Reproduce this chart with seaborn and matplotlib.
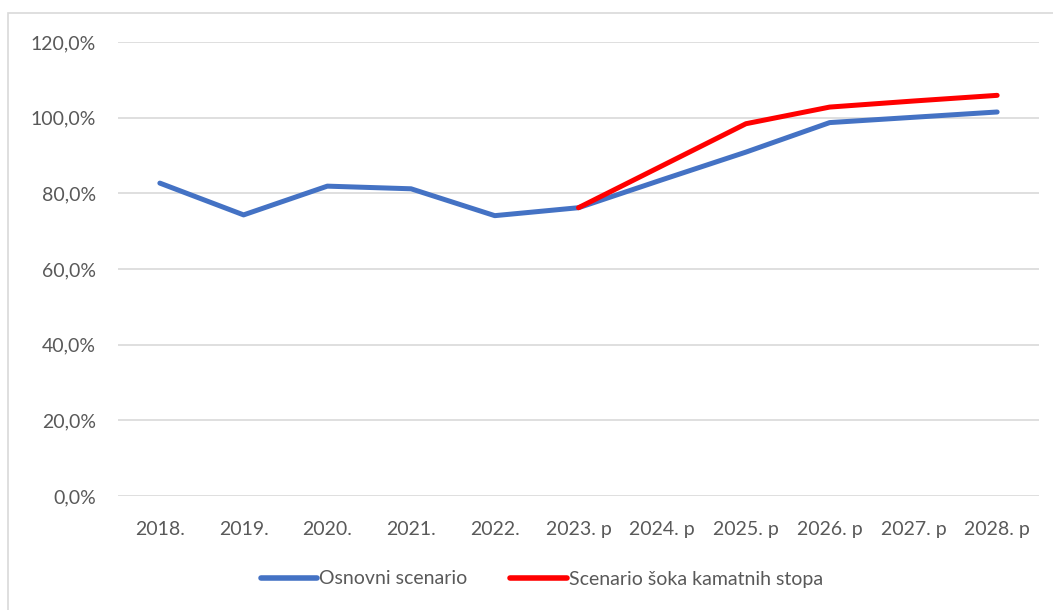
import pandas as pd
import matplotlib.pyplot as plt
import seaborn as sns
from matplotlib.patches import Rectangle
from matplotlib.ticker import FuncFormatter

years = ["2018.", "2019.", "2020.", "2021.", "2022.", "2023. p",
         "2024. p", "2025. p", "2026. p", "2027. p", "2028. p"]
osnovni = [82.7, 74.3, 81.9, 81.2, 74.1, 76.2, 83.6, 90.9, 98.7, 100.1, 101.5]
sok = [None, None, None, None, None, 76.2, 87.3, 98.4, 102.8, 104.4, 105.9]

names = ["Osnovni scenario", "Scenario šoka kamatnih stopa"]
colors = {"Osnovni scenario": "#4472c4", "Scenario šoka kamatnih stopa": "#ff0000"}

df = pd.DataFrame({
    "pos": list(range(len(years))) * 2,
    "value": osnovni + sok,
    "serija": [names[0]] * len(years) + [names[1]] * len(years),
}).dropna()

sns.set_theme(style="white")
plt.rcParams["font.family"] = ["Lato", "DejaVu Sans"]

fig = plt.figure(figsize=(10.53, 6.1), dpi=100)
ax = fig.add_axes([118 / 1053, 1 - 496 / 610, (1039 - 118) / 1053, (496 - 42) / 610])

sns.lineplot(data=df, x="pos", y="value", hue="serija", palette=colors,
             linewidth=3.6, ax=ax, legend=False, sort=True)
for line in ax.lines:
    line.set_solid_capstyle("round")

ax.set_xlim(-0.5, len(years) - 0.5)
ax.set_ylim(0, 120)
ax.set_yticks(range(0, 121, 20))
ax.yaxis.set_major_formatter(FuncFormatter(lambda v, p: f"{v:.1f}%".replace(".", ",")))
ax.set_xticks(range(len(years)))
ax.set_xticklabels(years)
ax.grid(axis="y", color="#d9d9d9", linewidth=1.2)
ax.set_axisbelow(True)
for s in ax.spines.values():
    s.set_visible(False)
ax.tick_params(axis="both", length=0, labelsize=14, colors="#595959")
ax.tick_params(axis="y", pad=16)
ax.tick_params(axis="x", pad=18)
ax.set_xlabel("")
ax.set_ylabel("")

handles = [plt.Line2D([], [], color=colors[n], linewidth=4, solid_capstyle="round") for n in names]
fig.legend(handles, names, loc="center", bbox_to_anchor=(542 / 1053, 1 - 579 / 610),
           ncol=2, frameon=False, fontsize=14, labelcolor="#595959",
           handlelength=2.9, handletextpad=0.1, columnspacing=2.2)

fig.patches.append(Rectangle((8 / 1053, -0.1), 1.2, 1 - 13 / 610 + 0.1,
                             transform=fig.transFigure, fill=False,
                             edgecolor="#d9d9d9", linewidth=1.2))

fig.savefig("out.png", dpi=100)
